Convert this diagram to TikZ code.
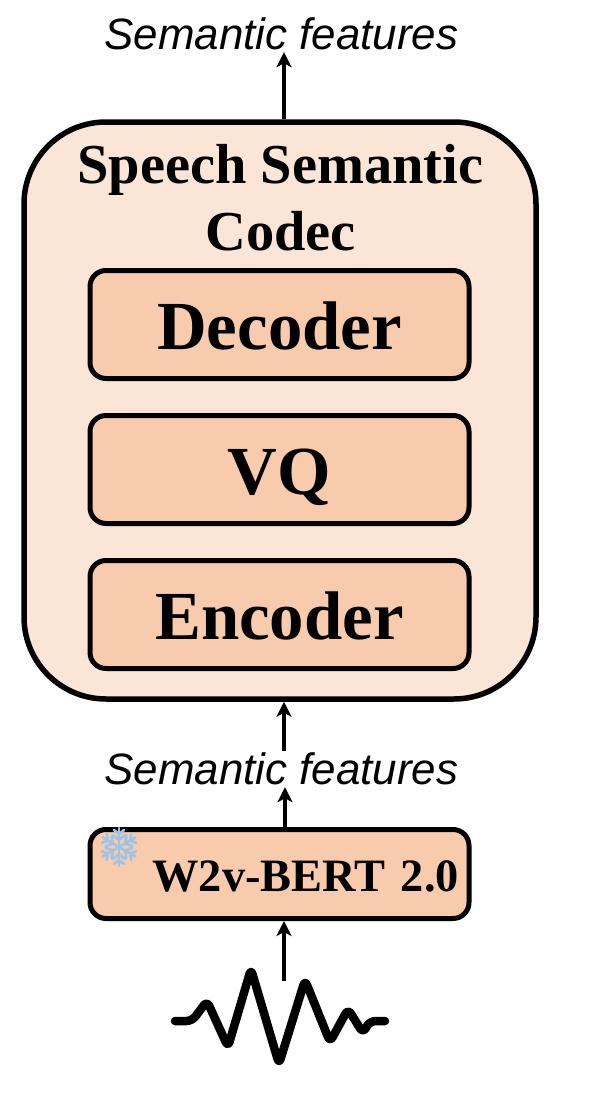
\documentclass[tikz,border=0pt]{standalone}
\usepackage{fontspec}
\setmainfont{Liberation Serif}
\newfontfamily\labelfont{Liberation Sans}
\usetikzlibrary{arrows.meta}
\definecolor{outerfill}{HTML}{FBE5D6}
\definecolor{innerfill}{HTML}{F8CBAD}
\definecolor{flake}{HTML}{9DC3E6}
\tikzset{
  x=1pt,y=-1pt,
  outerbox/.style={draw=black,line width=5.5pt,fill=outerfill,rounded corners=82pt,minimum width=512pt,minimum height=577pt,inner sep=0pt},
  innerbox/.style={draw=black,line width=5pt,fill=innerfill,rounded corners=16pt,minimum width=379pt,inner sep=0pt,font=\bfseries\fontsize{68.8}{72}\selectfont,text depth=0pt,text height=50pt},
  featlabel/.style={font=\labelfont\itshape\fontsize{43.9}{50}\selectfont,inner sep=0pt,minimum height=36pt,text height=30pt,text depth=0pt},
  arr/.style={line width=4.5pt,-{Stealth[length=15pt,width=15pt,inset=4pt]}},
  wave/.style={line width=8.5pt,line cap=round,line join=round,rounded corners=5.5pt},
  flakeline/.style={draw=flake,line width=2.6pt,line cap=round},
}
\begin{document}
\begin{tikzpicture}
\useasboundingbox (0,0) rectangle (598,1116);
\coordinate (axis) at (284,0);
\node[outerbox] (codec) at (280,410.5) {};
\node[inner sep=0pt,align=center,font=\bfseries\fontsize{56.4}{67}\selectfont] (title) at (280.5,198) {Speech Semantic\\Codec};
\node[innerbox,minimum height=108pt] (dec) at (279.5,324.5) {Decoder};
\node[innerbox,minimum height=108pt] (vq) at (279.5,469.5) {VQ};
\node[innerbox,minimum height=108pt] (enc) at (279.5,614.5) {Encoder};
\node[innerbox,minimum height=89pt,font=\bfseries\fontsize{46.4}{50}\selectfont,text height=35pt,text width=359pt,align=right] (w2v) at (279.5,874) {W2v-BERT 2.0};
\node[featlabel] (top) at (281.5,34) {Semantic features};
\node[featlabel] (mid) at (281.5,769) {Semantic features};
\coordinate (wavetop) at (284,981);
\draw[arr] (axis |- codec.north) -- (axis |- top.south);
\draw[arr] (axis |- mid.north) -- (axis |- codec.south);
\draw[arr] (285,0 |- w2v.north) -- (285,0 |- mid.south);
\draw[arr] (wavetop) -- (axis |- w2v.south);
\draw[wave] (175,1021) -- (192,1021) -- (207,1001) -- (228,1047) -- (251,969) -- (279,1064) -- (305,980) -- (330,1042) -- (348,1009) -- (363,1033) -- (370,1021) -- (385,1021);
\begin{scope}[shift={(119,847)}]
  \foreach \a in {30,90,150,210,270,330}{
    \begin{scope}[rotate=\a]
      \draw[flakeline] (0,0) -- (19,0);
      \draw[flakeline] (7,0) -- (12,-6) (7,0) -- (12,6);
      \draw[flakeline] (13,0) -- (17,-5) (13,0) -- (17,5);
    \end{scope}
  }
\end{scope}
\end{tikzpicture}
\end{document}
